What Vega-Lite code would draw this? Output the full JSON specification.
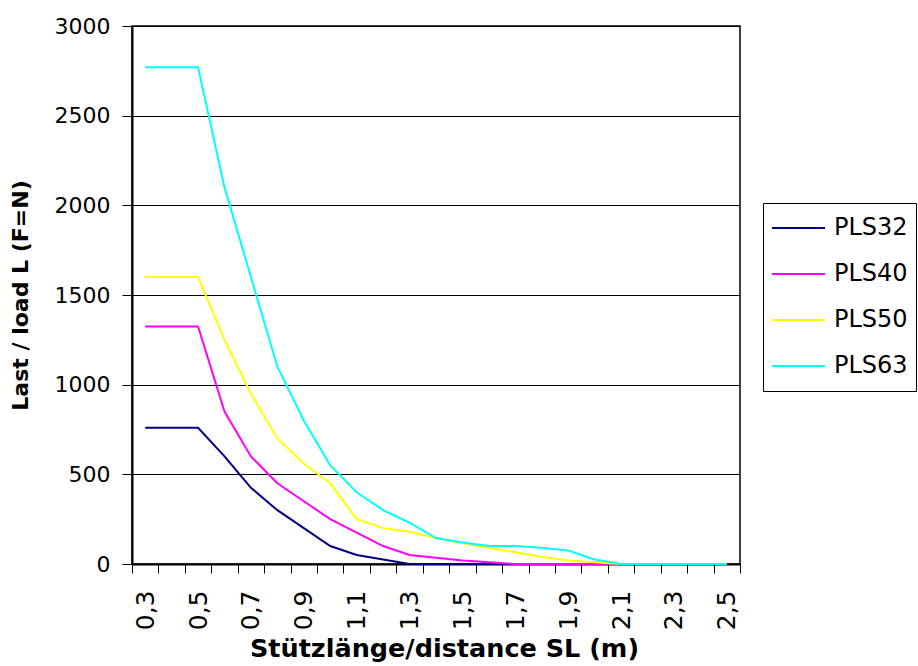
{
  "$schema": "https://vega.github.io/schema/vega-lite/v6.json",
  "width": 608,
  "height": 538,
  "autosize": {"type": "none"},
  "padding": {"left": 132, "top": 26, "right": 178, "bottom": 102},
  "background": "white",
  "config": {
    "view": {"stroke": "black", "strokeWidth": 1.5},
    "font": "DejaVu Sans"
  },
  "data": {
    "values": [
      {"SL": "0,3", "series": "PLS32", "L": 760}, {"SL": "0,4", "series": "PLS32", "L": 760}, {"SL": "0,5", "series": "PLS32", "L": 760},
      {"SL": "0,6", "series": "PLS32", "L": 600}, {"SL": "0,7", "series": "PLS32", "L": 425}, {"SL": "0,8", "series": "PLS32", "L": 300},
      {"SL": "0,9", "series": "PLS32", "L": 200}, {"SL": "1,0", "series": "PLS32", "L": 100}, {"SL": "1,1", "series": "PLS32", "L": 50},
      {"SL": "1,2", "series": "PLS32", "L": 25}, {"SL": "1,3", "series": "PLS32", "L": 0}, {"SL": "1,4", "series": "PLS32", "L": 0},
      {"SL": "1,5", "series": "PLS32", "L": 0}, {"SL": "1,6", "series": "PLS32", "L": 0}, {"SL": "1,7", "series": "PLS32", "L": 0},
      {"SL": "1,8", "series": "PLS32", "L": 0}, {"SL": "1,9", "series": "PLS32", "L": 0}, {"SL": "2,0", "series": "PLS32", "L": 0},
      {"SL": "2,1", "series": "PLS32", "L": 0}, {"SL": "2,2", "series": "PLS32", "L": 0}, {"SL": "2,3", "series": "PLS32", "L": 0},
      {"SL": "2,4", "series": "PLS32", "L": 0}, {"SL": "2,5", "series": "PLS32", "L": 0},

      {"SL": "0,3", "series": "PLS40", "L": 1325}, {"SL": "0,4", "series": "PLS40", "L": 1325}, {"SL": "0,5", "series": "PLS40", "L": 1325},
      {"SL": "0,6", "series": "PLS40", "L": 850}, {"SL": "0,7", "series": "PLS40", "L": 600}, {"SL": "0,8", "series": "PLS40", "L": 450},
      {"SL": "0,9", "series": "PLS40", "L": 350}, {"SL": "1,0", "series": "PLS40", "L": 250}, {"SL": "1,1", "series": "PLS40", "L": 175},
      {"SL": "1,2", "series": "PLS40", "L": 100}, {"SL": "1,3", "series": "PLS40", "L": 50}, {"SL": "1,4", "series": "PLS40", "L": 35},
      {"SL": "1,5", "series": "PLS40", "L": 20}, {"SL": "1,6", "series": "PLS40", "L": 10}, {"SL": "1,7", "series": "PLS40", "L": 0},
      {"SL": "1,8", "series": "PLS40", "L": 0}, {"SL": "1,9", "series": "PLS40", "L": 0}, {"SL": "2,0", "series": "PLS40", "L": 0},
      {"SL": "2,1", "series": "PLS40", "L": 0}, {"SL": "2,2", "series": "PLS40", "L": 0}, {"SL": "2,3", "series": "PLS40", "L": 0},
      {"SL": "2,4", "series": "PLS40", "L": 0}, {"SL": "2,5", "series": "PLS40", "L": 0},

      {"SL": "0,3", "series": "PLS50", "L": 1600}, {"SL": "0,4", "series": "PLS50", "L": 1600}, {"SL": "0,5", "series": "PLS50", "L": 1600},
      {"SL": "0,6", "series": "PLS50", "L": 1250}, {"SL": "0,7", "series": "PLS50", "L": 950}, {"SL": "0,8", "series": "PLS50", "L": 700},
      {"SL": "0,9", "series": "PLS50", "L": 560}, {"SL": "1,0", "series": "PLS50", "L": 450}, {"SL": "1,1", "series": "PLS50", "L": 250},
      {"SL": "1,2", "series": "PLS50", "L": 200}, {"SL": "1,3", "series": "PLS50", "L": 180}, {"SL": "1,4", "series": "PLS50", "L": 145},
      {"SL": "1,5", "series": "PLS50", "L": 115}, {"SL": "1,6", "series": "PLS50", "L": 90}, {"SL": "1,7", "series": "PLS50", "L": 65},
      {"SL": "1,8", "series": "PLS50", "L": 40}, {"SL": "1,9", "series": "PLS50", "L": 20}, {"SL": "2,0", "series": "PLS50", "L": 10},
      {"SL": "2,1", "series": "PLS50", "L": 0}, {"SL": "2,2", "series": "PLS50", "L": 0}, {"SL": "2,3", "series": "PLS50", "L": 0},
      {"SL": "2,4", "series": "PLS50", "L": 0}, {"SL": "2,5", "series": "PLS50", "L": 0},

      {"SL": "0,3", "series": "PLS63", "L": 2770}, {"SL": "0,4", "series": "PLS63", "L": 2770}, {"SL": "0,5", "series": "PLS63", "L": 2770},
      {"SL": "0,6", "series": "PLS63", "L": 2100}, {"SL": "0,7", "series": "PLS63", "L": 1600}, {"SL": "0,8", "series": "PLS63", "L": 1100},
      {"SL": "0,9", "series": "PLS63", "L": 800}, {"SL": "1,0", "series": "PLS63", "L": 550}, {"SL": "1,1", "series": "PLS63", "L": 400},
      {"SL": "1,2", "series": "PLS63", "L": 300}, {"SL": "1,3", "series": "PLS63", "L": 230}, {"SL": "1,4", "series": "PLS63", "L": 145},
      {"SL": "1,5", "series": "PLS63", "L": 120}, {"SL": "1,6", "series": "PLS63", "L": 100}, {"SL": "1,7", "series": "PLS63", "L": 100},
      {"SL": "1,8", "series": "PLS63", "L": 90}, {"SL": "1,9", "series": "PLS63", "L": 75}, {"SL": "2,0", "series": "PLS63", "L": 25},
      {"SL": "2,1", "series": "PLS63", "L": 0}, {"SL": "2,2", "series": "PLS63", "L": 0}, {"SL": "2,3", "series": "PLS63", "L": 0},
      {"SL": "2,4", "series": "PLS63", "L": 0}, {"SL": "2,5", "series": "PLS63", "L": 0}
    ]
  },
  "mark": {"type": "line", "strokeWidth": 2},
  "encoding": {
    "x": {
      "field": "SL",
      "type": "ordinal",
      "sort": null,
      "bandPosition": 0.5,
      "scale": {"type": "band", "paddingInner": 0, "paddingOuter": 0},
      "axis": {
        "title": "Stützlänge/distance SL (m)",
        "tickBand": "extent",
        "labelExpr": "indexof(['0,3','0,5','0,7','0,9','1,1','1,3','1,5','1,7','1,9','2,1','2,3','2,5'], datum.value) >= 0 ? datum.value : ''",
        "labelAngle": 270,
        "labelAlign": "right",
        "labelBaseline": "middle",
        "labelOverlap": false,
        "labelBound": false,
        "labelFont": "DejaVu Sans",
        "labelFontSize": 25,
        "labelColor": "black",
        "labelPadding": 17,
        "tickSize": 9,
        "tickColor": "black",
        "tickWidth": 1,
        "domainColor": "black",
        "domainWidth": 2,
        "grid": false,
        "titleFont": "DejaVu Sans",
        "titleFontWeight": "bold",
        "titleFontSize": 25.5,
        "titleColor": "black",
        "titleX": 312,
        "titleY": 72,
        "titleAlign": "center",
        "titleBaseline": "top"
      }
    },
    "y": {
      "field": "L",
      "type": "quantitative",
      "scale": {"domain": [0, 3000], "nice": false},
      "axis": {
        "title": "Last / load L (F=N)",
        "values": [0, 500, 1000, 1500, 2000, 2500, 3000],
        "format": "d",
        "grid": true,
        "gridColor": "black",
        "gridWidth": 1,
        "domainColor": "black",
        "domainWidth": 2,
        "tickColor": "black",
        "tickSize": 10,
        "labelFont": "DejaVu Sans",
        "labelFontSize": 22,
        "labelColor": "black",
        "labelPadding": 12,
        "titleFont": "DejaVu Sans",
        "titleFontWeight": "bold",
        "titleFontSize": 22,
        "titleColor": "black",
        "titlePadding": 22
      }
    },
    "color": {
      "field": "series",
      "type": "nominal",
      "scale": {
        "domain": ["PLS32", "PLS40", "PLS50", "PLS63"],
        "range": ["#000080", "#FF00FF", "#FFFF00", "#00FFFF"]
      },
      "legend": {
        "title": null,
        "orient": "none",
        "legendX": 631,
        "legendY": 177,
        "symbolType": "stroke",
        "symbolSize": 2809,
        "symbolStrokeWidth": 2,
        "clipHeight": 34,
        "rowPadding": 12,
        "padding": 8,
        "labelOffset": 8,
        "labelFont": "DejaVu Sans",
        "labelFontSize": 24,
        "labelColor": "black",
        "fillColor": "white",
        "strokeColor": "black"
      }
    }
  }
}
